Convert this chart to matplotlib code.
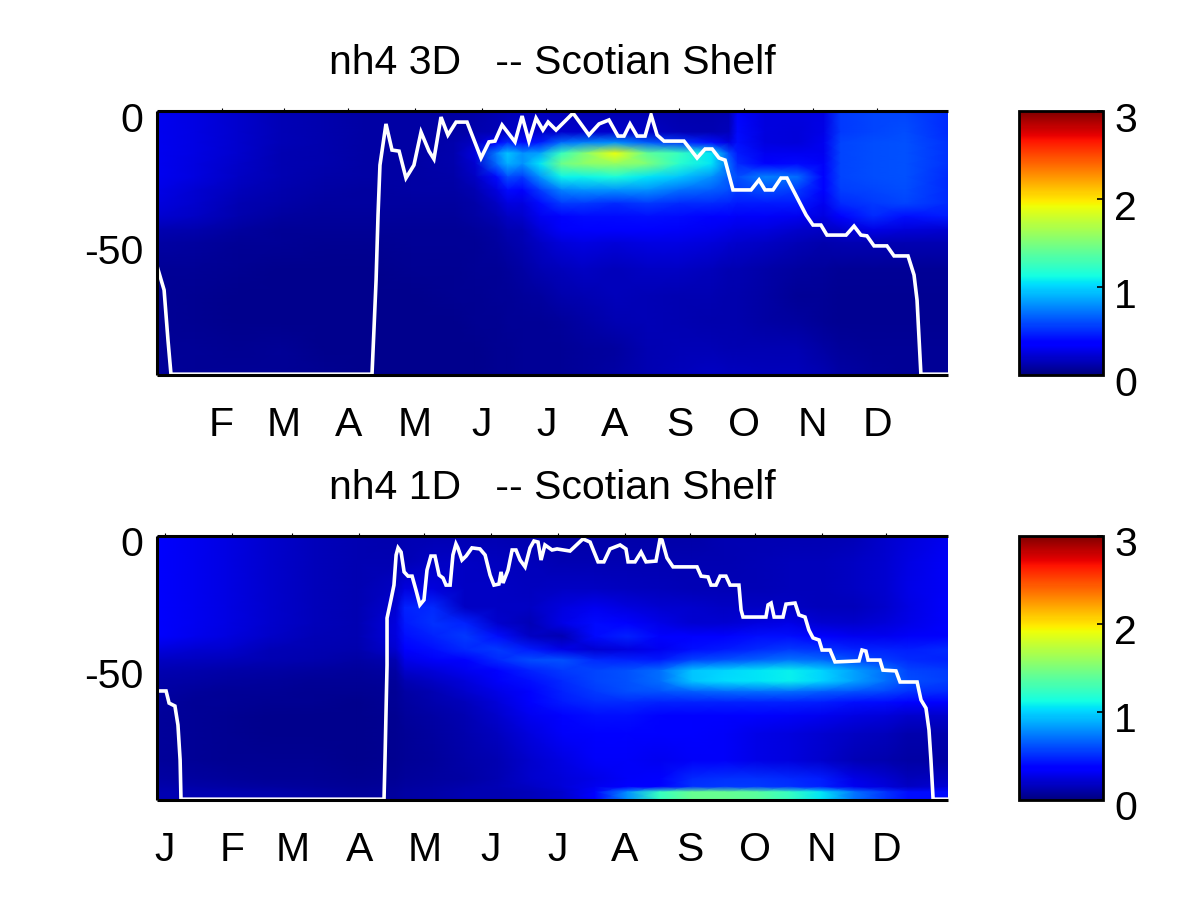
import numpy as np
import matplotlib
matplotlib.use('Agg')
import matplotlib.pyplot as plt
from matplotlib.transforms import ScaledTranslation

plt.rcParams['font.family'] = ['Liberation Sans', 'DejaVu Sans']

month_labels = ['J', 'F', 'M', 'A', 'M', 'J', 'J', 'A', 'S', 'O', 'N', 'D']
month_days_3d = [32, 61, 91, 122, 153, 183, 215, 245, 275, 307, 337]
month_days_1d = [1, 32, 60, 91, 121, 152, 183, 214, 244, 274, 305, 335]

#3D run
days_3d = [2, 20, 40, 60, 80, 100, 120, 140, 150, 160, 165, 172, 180, 190, 200, 215, 230, 245, 260, 268, 272, 285, 300, 312, 320, 335, 350, 370]
depth_3d = [0, -8, -12, -16, -20, -25, -30, -35, -40, -45, -50, -60, -70, -80, -90, -100]
nh4_3d = [
	[.30,.26,.20,.15,.12,.10,.10,.10,.11,.13,.15,.16,.16,.15,.14,.14,.14,.12,.12,.14,.38,.25,.25,.26,.55,.58,.58,.50],
	[.30,.26,.20,.15,.12,.10,.10,.10,.12,.15,.18,.20,.20,.20,.20,.20,.18,.15,.14,.16,.40,.25,.24,.28,.55,.58,.60,.50],
	[.30,.26,.20,.15,.12,.10,.10,.12,.18,.35,.50,.40,.45,.70,.75,.80,.65,.55,.42,.25,.42,.25,.24,.30,.58,.60,.62,.52],
	[.30,.26,.20,.14,.12,.10,.10,.12,.25,.75,.95,.80,.85,1.25,1.5,1.9,1.4,1.25,1.05,.60,.45,.30,.30,.30,.58,.60,.62,.52],
	[.30,.25,.19,.14,.12,.10,.10,.12,.22,.70,.90,.80,1.05,1.45,1.55,1.6,1.5,1.2,1.05,.70,.50,.35,.40,.32,.58,.60,.62,.52],
	[.30,.25,.18,.13,.11,.10,.10,.11,.18,.40,.60,.55,.80,1.1,1.1,1.15,1.05,.95,.80,.65,.60,.75,.70,.35,.58,.60,.62,.50],
	[.28,.22,.16,.12,.10,.09,.10,.10,.13,.25,.40,.35,.55,.75,.80,.80,.80,.70,.65,.60,.55,.60,.55,.35,.56,.58,.60,.50],
	[.25,.20,.14,.11,.09,.09,.09,.09,.11,.18,.25,.25,.40,.55,.55,.50,.55,.50,.50,.48,.45,.45,.45,.30,.50,.55,.58,.50],
	[.22,.18,.12,.09,.08,.08,.08,.08,.10,.14,.18,.20,.30,.38,.40,.40,.42,.40,.36,.34,.32,.32,.30,.25,.35,.50,.42,.45],
	[.14,.12,.09,.07,.06,.07,.07,.07,.08,.10,.13,.15,.24,.32,.34,.34,.34,.32,.30,.28,.26,.25,.20,.18,.20,.28,.24,.22],
	[.10,.09,.07,.06,.05,.05,.06,.06,.07,.09,.11,.13,.18,.24,.26,.24,.26,.26,.24,.22,.20,.18,.15,.12,.14,.13,.13,.13],
	[.07,.06,.05,.04,.04,.04,.05,.05,.06,.07,.08,.10,.14,.16,.18,.16,.18,.18,.16,.14,.13,.11,.09,.08,.07,.06,.07,.07],
	[.06,.05,.04,.04,.04,.04,.04,.05,.05,.06,.07,.08,.09,.12,.14,.16,.15,.14,.13,.12,.12,.10,.07,.06,.05,.05,.05,.05],
	[.06,.05,.04,.04,.04,.04,.04,.04,.05,.05,.06,.06,.07,.08,.10,.13,.15,.14,.12,.12,.12,.10,.09,.07,.05,.05,.05,.05],
	[.07,.06,.05,.06,.04,.04,.04,.04,.04,.05,.05,.06,.06,.07,.08,.09,.13,.15,.15,.14,.14,.13,.13,.10,.08,.06,.06,.06],
	[.08,.07,.07,.07,.05,.04,.04,.04,.04,.05,.05,.06,.06,.07,.08,.10,.14,.16,.18,.17,.17,.16,.16,.13,.10,.08,.07,.07],
]
line_days_3d = [2, 5.3, 7.1, 8.5, 102, 102.9, 103.9, 104.8, 105.7, 108.5, 111.3, 114.6, 117.8, 121.5, 124.8, 128.5, 130.8, 134.1, 137.3, 141.1, 146.2, 152.7, 156.4, 159.2, 162.5, 168.5, 171.8, 175, 178.3, 181.5, 183.9, 187.6, 195.5, 202.9, 207.6, 212.2, 216.4, 219.2, 222, 225.3, 229, 231.8, 234.6, 237.8, 247.1, 253.2, 256.9, 260.2, 263.4, 266.2, 269.9, 278.3, 282, 284.8, 288.5, 292.2, 295, 303.9, 307.1, 310.8, 313.6, 322.5, 326.2, 329.4, 332.2, 335.5, 341.5, 344.8, 351.3, 354.1, 355.5, 357.3, 369.9]
line_depth_3d = [-58.7, -67.8, -86.7, -99.7, -99.7, -83, -64, -39.4, -20.5, -4.9, -14.8, -15.2, -25.4, -20.5, -8, -15.2, -18.2, -2.3, -9.1, -4.2, -4.2, -17.8, -11.7, -11.4, -5.3, -11.7, -1.9, -11.4, -2.7, -7.2, -4.2, -7.2, -0.8, -9.1, -4.9, -3.4, -9.5, -9.5, -4.9, -9.5, -9.5, -1.5, -9.1, -11.4, -11.4, -17.8, -14.4, -14.4, -17.8, -18.6, -29.9, -29.9, -26.1, -29.9, -29.9, -25.4, -25.4, -39.4, -43.2, -43.2, -47, -47, -43.6, -47, -47.3, -51.1, -51.1, -54.9, -54.9, -62.1, -71.6, -99.7, -99.7]

#1D run
days_1d = [-3, 15, 30, 50, 70, 90, 108, 112, 125, 140, 155, 170, 185, 200, 215, 230, 245, 260, 275, 290, 305, 320, 335, 345, 364]
depth_1d = [0, -10, -20, -27, -33, -38, -43, -47, -51, -55, -59, -63, -68, -75, -85, -92, -95, -97, -100]
nh4_1d = [
	[.36,.30,.26,.20,.16,.13,.12,.13,.13,.14,.13,.12,.11,.11,.11,.11,.11,.13,.13,.14,.14,.15,.20,.24,.30],
	[.36,.30,.26,.20,.16,.13,.13,.15,.18,.18,.17,.16,.14,.14,.14,.13,.13,.14,.15,.16,.16,.18,.22,.26,.32],
	[.36,.30,.26,.20,.16,.14,.18,.25,.25,.18,.18,.17,.18,.18,.17,.16,.15,.15,.15,.16,.16,.18,.22,.28,.32],
	[.36,.30,.26,.20,.16,.14,.22,.48,.50,.18,.18,.18,.25,.30,.25,.22,.20,.18,.18,.18,.16,.16,.20,.26,.34],
	[.36,.30,.26,.20,.16,.14,.25,.45,.52,.48,.20,.15,.28,.40,.38,.28,.22,.22,.25,.28,.22,.20,.24,.28,.34],
	[.34,.29,.25,.19,.15,.13,.25,.42,.48,.55,.42,.18,.14,.40,.47,.38,.34,.38,.42,.42,.36,.30,.30,.32,.38],
	[.25,.22,.20,.15,.13,.12,.22,.36,.42,.50,.55,.45,.28,.22,.25,.30,.42,.45,.50,.55,.52,.48,.48,.46,.50],
	[.18,.17,.16,.13,.12,.10,.14,.28,.32,.36,.50,.60,.62,.50,.48,.45,.58,.62,.66,.72,.68,.60,.55,.50,.48],
	[.14,.12,.11,.10,.09,.08,.10,.20,.24,.30,.38,.48,.55,.58,.62,.70,.95,1.0,1.05,1.08,1.0,.85,.70,.58,.55],
	[.11,.10,.09,.08,.07,.06,.08,.14,.18,.24,.32,.42,.50,.58,.62,.70,.95,1.02,1.05,1.08,1.0,.85,.70,.60,.56],
	[.10,.08,.07,.06,.05,.05,.06,.10,.14,.20,.28,.38,.48,.55,.60,.62,.65,.68,.70,.70,.65,.62,.58,.52,.50],
	[.09,.07,.06,.05,.05,.04,.06,.09,.12,.16,.24,.33,.45,.50,.50,.48,.48,.48,.48,.48,.46,.42,.40,.36,.36],
	[.08,.06,.05,.04,.04,.04,.05,.08,.10,.14,.20,.30,.38,.42,.42,.38,.36,.36,.34,.32,.30,.26,.24,.20,.20],
	[.08,.06,.05,.04,.04,.04,.05,.07,.09,.12,.17,.25,.32,.36,.38,.36,.34,.32,.28,.25,.22,.18,.16,.12,.12],
	[.08,.07,.05,.05,.05,.04,.05,.07,.08,.11,.14,.20,.26,.32,.32,.30,.32,.32,.28,.25,.20,.15,.12,.10,.10],
	[.10,.09,.08,.07,.06,.05,.06,.08,.09,.10,.13,.20,.24,.28,.32,.36,.50,.52,.52,.50,.46,.28,.22,.16,.18],
	[.12,.11,.10,.09,.08,.07,.08,.09,.10,.12,.15,.18,.24,.30,.33,.38,.52,.55,.55,.52,.48,.30,.24,.18,.24],
	[.14,.14,.13,.12,.10,.08,.09,.10,.11,.13,.14,.16,.20,.35,.80,1.25,1.42,1.42,1.38,1.25,1.05,.72,.52,.42,.40],
	[.14,.14,.13,.12,.10,.08,.09,.10,.11,.13,.14,.16,.20,.35,.80,1.25,1.42,1.42,1.38,1.25,1.05,.72,.52,.42,.40],
]
line_days_1d = [-2.7, 1.5, 2.9, 5.6, 7, 8, 8.4, 102.4, 102.9, 103.8, 103.8, 105.6, 107, 108, 108.9, 110.3, 111.7, 113.5, 115.4, 117.2, 119, 120.9, 122.3, 124.1, 126, 127.9, 129.7, 131.1, 133, 134.3, 135.7, 136.6, 138.5, 140.4, 143.1, 146.8, 149.2, 151.5, 153.3, 155.6, 156.6, 157.5, 159.8, 161.7, 163.5, 165.4, 167.7, 170, 171.8, 173.7, 175.1, 176.9, 180.2, 182.5, 188.5, 194.5, 197.8, 201.5, 204.2, 207, 211.7, 214.4, 215.4, 218.6, 221.4, 223.7, 228.3, 230.2, 231.1, 233.4, 236.2, 247.3, 249.2, 252.4, 253.8, 256.1, 258, 260.7, 262.6, 266.7, 267.7, 268.6, 279.2, 280.2, 281.6, 283, 287.1, 288.5, 292.7, 294.5, 297.3, 299.1, 301, 303.8, 305.2, 308.9, 311.2, 322.3, 323.7, 325.5, 326.5, 332, 333.4, 339.4, 341.3, 349.2, 351, 353.3, 354.7, 355.6, 356.6, 363.5]
line_depth_1d = [-58.7, -58.7, -63.3, -64.4, -71.6, -84.8, -99.7, -99.7, -83, -48.9, -31.1, -24.2, -18.6, -7.2, -4.5, -6.1, -13.6, -15.2, -15.2, -20.5, -26.1, -24.2, -12.9, -7.6, -7.6, -14.8, -15.9, -18.6, -18.6, -7.2, -3, -4.5, -9.1, -7.6, -4.5, -4.9, -7.2, -14.8, -18.6, -18.2, -13.6, -17.8, -12.9, -5.3, -5.3, -9.1, -11.7, -4.5, -1.9, -2.3, -9.1, -3.4, -5.3, -4.9, -5.7, -1.1, -2.3, -9.8, -9.8, -4.9, -3.4, -4.9, -9.8, -9.8, -6.1, -9.8, -9.5, -1.1, -1.5, -8.3, -11.7, -11.7, -15.2, -15.5, -18.6, -18.6, -15.2, -15.2, -18.6, -18.6, -28, -30.7, -30.7, -26.1, -25.4, -30.7, -30.7, -25.8, -25.4, -29.9, -30.7, -35.6, -38.6, -39.4, -43.2, -43.2, -47.7, -47.3, -43.2, -43.6, -47, -47, -50.8, -51.1, -55.3, -55.3, -62.1, -65.2, -73.5, -84.8, -99.7, -99.7]

fs = 29.5
dpi = 100
fig = plt.figure(figsize=(12, 9), dpi=dpi)


def shift_labels(labels, fig):
	#labels sit a bit lower than their ticks
	for lab in labels:
		lab.set_transform(lab.get_transform() + ScaledTranslation(0, -5.5 / dpi, fig.dpi_scale_trans))


def panel(box, cbox, days, depth, vals, line_x, line_y, xlim, title, ticks, labels):
	ax = fig.add_axes(box)
	pc = ax.pcolormesh(days, depth, np.array(vals), cmap='jet', vmin=0, vmax=3, shading='gouraud', rasterized=True)
	ax.plot(line_x, line_y, color='white', lw=2.6, solid_joinstyle='miter')
	ax.set_xlim(*xlim)
	ax.set_ylim(-100, 0)
	ax.set_xticks(ticks)
	ax.set_xticklabels(labels, fontsize=fs)
	ax.set_yticks([-50, 0])
	ax.set_yticklabels(['-50', '0'], fontsize=fs)
	ax.tick_params(axis='x', direction='out', top=True, bottom=False, length=2, width=0.8, pad=20.5)
	ax.tick_params(axis='y', direction='in', length=0, pad=10)
	ax.set_title(title, fontsize=fs, pad=26.5)
	ax.spines['right'].set_visible(False)
	for s in ['left', 'top', 'bottom']:
		ax.spines[s].set_linewidth(2.2)
		ax.spines[s].set_capstyle('butt')
	shift_labels(ax.get_yticklabels(), fig)

	cax = fig.add_axes(cbox)
	cb = fig.colorbar(pc, cax=cax, ticks=[0, 1, 2, 3])
	cb.ax.tick_params(direction='in', length=4, width=1.2, labelsize=fs, pad=8)
	cb.outline.set_linewidth(2.0)
	shift_labels(cb.ax.get_yticklabels(), fig)
	return ax


def box(l, t, r, b):
	return [l / 1200, 1 - b / 900, (r - l) / 1200, (b - t) / 900]


panel(box(157, 111, 948, 375), box(1019, 111, 1103, 375), days_3d, depth_3d, nh4_3d,
	line_days_3d, line_depth_3d, (2, 369.9), 'nh4 3D   -- Scotian Shelf', month_days_3d, month_labels[1:])
panel(box(157, 536, 948, 800), box(1019, 536, 1103, 800), days_1d, depth_1d, nh4_1d,
	line_days_1d, line_depth_1d, (-2.7, 363.5), 'nh4 1D   -- Scotian Shelf', month_days_1d, month_labels)

fig.savefig('out.png', dpi=dpi)
